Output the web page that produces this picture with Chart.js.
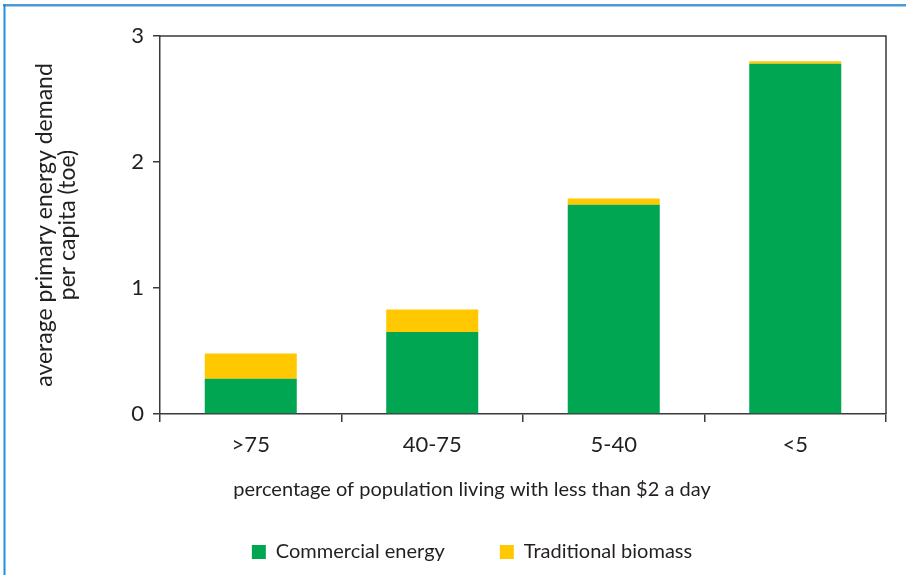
<!DOCTYPE html>
<html>
<head>
<meta charset="utf-8">
<script src="https://cdn.jsdelivr.net/npm/chart.js@4"></script>
<style>
  html, body { margin: 0; padding: 0; background: #ffffff; }
  #wrap { width: 906px; height: 575px; position: relative; }
  canvas { display: block; }
</style>
</head>
<body>
<div id="wrap"><canvas id="energy" width="906" height="575"></canvas></div>
<script>
// Poverty bands: share of population living on less than $2 a day
const categories = ['>75', '40-75', '5-40', '<5'];
// Average primary energy demand per capita (toe), by source
const commercialEnergy = [0.28, 0.65, 1.66, 2.78];
const traditionalBiomass = [0.20, 0.18, 0.05, 0.02];
const yTickValues = [0, 1, 2, 3];

const FONT = 'Lato, "Noto Sans", "DejaVu Sans", sans-serif';
const INK = '#231f20';
const AXIS = '#3a3a3a';

// Closes the plot frame on the top and right sides
const plotFrame = {
  id: 'plotFrame',
  afterDatasetsDraw(chart) {
    const { ctx, chartArea: a } = chart;
    ctx.save();
    ctx.strokeStyle = AXIS;
    ctx.lineWidth = 1.5;
    ctx.beginPath();
    ctx.moveTo(a.left, a.top);
    ctx.lineTo(a.right, a.top);
    ctx.lineTo(a.right, a.bottom);
    ctx.stroke();
    ctx.restore();
  }
};

// Thin blue page rule along the top and left edges
const pageRule = {
  id: 'pageRule',
  afterDraw(chart) {
    const { ctx, width, height } = chart;
    ctx.save();
    ctx.fillStyle = '#4b9cd6';
    ctx.fillRect(3, 4, width - 3, 2.5);
    ctx.fillStyle = '#1f8fe0';
    ctx.fillRect(3.5, 4, 2, height - 4);
    ctx.restore();
  }
};

new Chart(document.getElementById('energy'), {
  type: 'bar',
  data: {
    labels: categories,
    datasets: [
      {
        label: 'Commercial energy',
        data: commercialEnergy,
        backgroundColor: '#00a651',
        borderWidth: 0,
        barPercentage: 0.507,
        categoryPercentage: 1.0
      },
      {
        label: 'Traditional biomass',
        data: traditionalBiomass,
        backgroundColor: '#ffc800',
        borderWidth: 0,
        barPercentage: 0.507,
        categoryPercentage: 1.0
      }
    ]
  },
  options: {
    responsive: false,
    animation: false,
    devicePixelRatio: 1,
    layout: { padding: { left: 58, right: 20, top: 36, bottom: 3 } },
    plugins: {
      tooltip: { enabled: false },
      // x-axis caption, placed between the tick labels and the legend
      title: {
        display: true,
        position: 'bottom',
        weight: 500,
        text: 'percentage of population living with less than $2 a day',
        color: INK,
        font: { family: FONT, size: 20, weight: 'normal', lineHeight: 1.2 },
        padding: { top: 20, bottom: -15 }
      },
      legend: {
        position: 'bottom',
        weight: 1000,
        labels: {
          boxWidth: 14,
          boxHeight: 14,
          padding: 55,
          color: INK,
          font: { family: FONT, size: 20 }
        }
      }
    },
    scales: {
      x: {
        stacked: true,
        offset: true,
        grid: {
          display: true,
          offset: true,
          drawOnChartArea: false,
          drawTicks: true,
          tickLength: 8,
          color: AXIS,
          lineWidth: 1.5
        },
        border: { display: true, color: AXIS, width: 1.5 },
        ticks: {
          color: INK,
          padding: 10,
          font: { family: FONT, size: 22 }
        },
        afterFit(scale) { scale.height = 44; }
      },
      y: {
        stacked: true,
        min: 0,
        max: 3,
        afterBuildTicks(scale) {
          scale.ticks = yTickValues.map(v => ({ value: v }));
        },
        grid: {
          display: true,
          drawOnChartArea: false,
          drawTicks: true,
          tickLength: 7,
          color: AXIS,
          lineWidth: 1.5
        },
        border: { display: true, color: AXIS, width: 1.5 },
        ticks: {
          color: INK,
          padding: 9,
          font: { family: FONT, size: 22 }
        },
        title: {
          display: true,
          text: ['average primary energy demand', 'per capita (toe)'],
          color: INK,
          font: { family: FONT, size: 23, lineHeight: 1.0 },
          padding: { top: -25, bottom: 0 }
        },
        afterFit(scale) { scale.width = 102; }
      }
    }
  },
  plugins: [plotFrame, pageRule]
});
</script>
</body>
</html>
